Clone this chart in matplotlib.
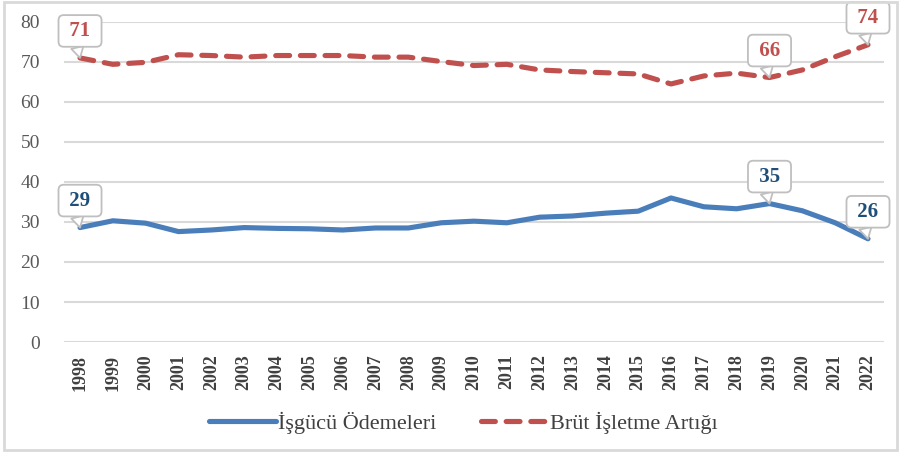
import numpy as np
import matplotlib
matplotlib.use('Agg')
import matplotlib.pyplot as plt
from matplotlib.patches import Rectangle

plt.rcParams['font.family'] = ['Liberation Serif', 'DejaVu Serif']

years = [str(y) for y in range(1998, 2023)]
isgucu = [28.6, 30.3, 29.7, 27.6, 28.0, 28.6, 28.4, 28.3, 28.0, 28.5, 28.5, 29.8, 30.2,
          29.8, 31.2, 31.5, 32.2, 32.7, 36.0, 33.8, 33.3, 34.6, 32.8, 29.8, 25.8]
brut = [71.0, 69.4, 69.9, 71.8, 71.6, 71.2, 71.6, 71.6, 71.6, 71.2, 71.2, 70.1, 69.1,
        69.4, 68.0, 67.6, 67.3, 67.0, 64.5, 66.5, 67.2, 66.1, 68.0, 71.3, 74.3]

# annotated points: index -> label
notes_blue = {0: '29', 21: '35', 24: '26'}
notes_red = {0: '71', 21: '66', 24: '74'}

blue = '#4A7EBB'
red = '#C0504D'
grid_c = '#D9D9D9'

fig = plt.figure(figsize=(9.01, 4.53), dpi=100)
ax = fig.add_axes([0.0706, 0.245, 0.911, 0.7066])

x = np.arange(len(years))
ax.plot(x, isgucu, color=blue, lw=3.7, solid_capstyle='round', solid_joinstyle='round',
        label='İşgücü Ödemeleri', zorder=3)
ax.plot(x, brut, color=red, lw=3.7, dashes=(2.7, 2.1), dash_capstyle='round',
        label='Brüt İşletme Artığı', zorder=3)

def callout(i, v, txt, col):
    ax.annotate(' ' + txt + ' ', xy=(i, v), xytext=(0, 27), textcoords='offset pixels',
                ha='center', va='center', fontsize=15, fontweight='bold', color=col,
                bbox=dict(boxstyle='round,pad=0.28,rounding_size=0.25', fc='white', ec='#BFBFBF', lw=1.3),
                arrowprops=dict(arrowstyle='wedge,tail_width=0.6,shrink_factor=0.5',
                                fc='white', ec='#BFBFBF', lw=1.3, shrinkA=0, shrinkB=0,
                                relpos=(0.35, 0.1)),
                zorder=5)

for i, t in notes_blue.items():
    callout(i, isgucu[i], t, '#1F4E79')
for i, t in notes_red.items():
    callout(i, brut[i], t, red)

ax.set_xlim(-0.5, len(years) - 0.5)
ax.set_ylim(0, 80)
ax.set_yticks(range(0, 81, 10))
ax.set_xticks(x)
ax.set_xticklabels(years, rotation=90, fontsize=13, fontweight='bold', color='#404040')
ax.tick_params(axis='y', labelsize=14, labelcolor='#595959', length=0, pad=17)
ax.tick_params(axis='x', length=0, pad=9)
ax.grid(axis='y', color=grid_c, lw=1.5)
ax.set_axisbelow(True)
for s in ax.spines.values():
    s.set_visible(False)

fig.legend(loc='center', bbox_to_anchor=(0.514, 0.066), ncol=2, frameon=False,
           fontsize=16, handlelength=3.0, handletextpad=0.1, columnspacing=2.0,
           labelcolor='#404040')

fig.patches.append(Rectangle((0.004, 0.006), 0.992, 0.99, transform=fig.transFigure,
                             fill=False, ec=grid_c, lw=2))

fig.savefig('out.png', dpi=100)
